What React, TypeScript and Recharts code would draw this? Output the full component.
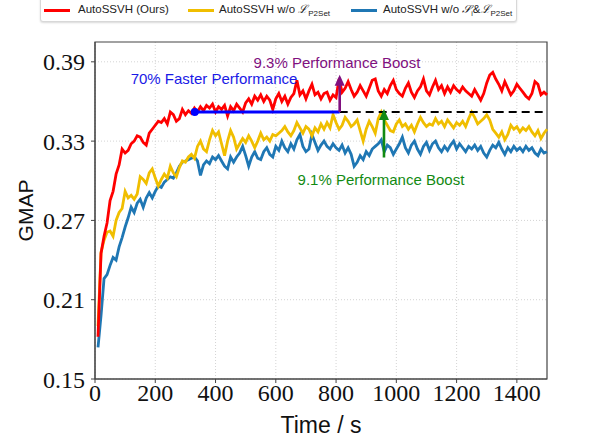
import { LineChart, Line, XAxis, YAxis, CartesianGrid, ReferenceArea, ReferenceDot, Label } from 'recharts';

// GMAP every 10 s, t = 10 ... 1500
const ours = [
  0.182, 0.245, 0.258, 0.268, 0.285, 0.292, 0.305, 0.312, 0.324, 0.321,
  0.323, 0.328, 0.330, 0.334, 0.333, 0.329, 0.327, 0.336, 0.339, 0.342,
  0.345, 0.344, 0.347, 0.343, 0.352, 0.350, 0.345, 0.347, 0.354, 0.350,
  0.353, 0.351, 0.355, 0.352, 0.356, 0.353, 0.357, 0.355, 0.358, 0.352,
  0.356, 0.354, 0.357, 0.349, 0.356, 0.353, 0.358, 0.355, 0.352, 0.359,
  0.362, 0.358, 0.364, 0.361, 0.365, 0.360, 0.364, 0.361, 0.354, 0.362,
  0.366, 0.360, 0.364, 0.358, 0.363, 0.366, 0.376, 0.365, 0.368, 0.362,
  0.368, 0.373, 0.365, 0.367, 0.362, 0.366, 0.367, 0.361, 0.365, 0.363,
  0.377, 0.367, 0.370, 0.375, 0.369, 0.364, 0.367, 0.372, 0.368, 0.364,
  0.370, 0.376, 0.377, 0.368, 0.364, 0.369, 0.366, 0.372, 0.376, 0.369,
  0.366, 0.364, 0.370, 0.374, 0.367, 0.363, 0.368, 0.371, 0.377, 0.368,
  0.365, 0.371, 0.376, 0.369, 0.372, 0.366, 0.371, 0.367, 0.372, 0.369,
  0.367, 0.371, 0.368, 0.366, 0.364, 0.369, 0.365, 0.361, 0.366, 0.374,
  0.380, 0.382, 0.377, 0.373, 0.368, 0.375, 0.370, 0.365, 0.368, 0.373,
  0.370, 0.367, 0.364, 0.362, 0.366, 0.375, 0.373, 0.365, 0.367, 0.365,
];

const noP2Set = [
  0.190, 0.246, 0.255, 0.261, 0.262, 0.258, 0.270, 0.276, 0.279, 0.292,
  0.287, 0.289, 0.286, 0.290, 0.303, 0.301, 0.298, 0.306, 0.309, 0.302,
  0.296, 0.301, 0.305, 0.302, 0.311, 0.306, 0.303, 0.310, 0.315, 0.314,
  0.318, 0.320, 0.317, 0.326, 0.330, 0.324, 0.322, 0.331, 0.338, 0.334,
  0.337, 0.328, 0.319, 0.330, 0.338, 0.333, 0.324, 0.328, 0.332, 0.329,
  0.334, 0.330, 0.325, 0.330, 0.336, 0.331, 0.333, 0.330, 0.335, 0.334,
  0.336, 0.338, 0.341, 0.337, 0.334, 0.338, 0.344, 0.340, 0.336, 0.341,
  0.339, 0.334, 0.340, 0.337, 0.343, 0.339, 0.344, 0.340, 0.350, 0.344,
  0.339, 0.342, 0.348, 0.345, 0.341, 0.343, 0.346, 0.338, 0.330, 0.339,
  0.345, 0.341, 0.336, 0.347, 0.352, 0.346, 0.342, 0.338, 0.337, 0.343,
  0.346, 0.341, 0.343, 0.339, 0.342, 0.337, 0.343, 0.348, 0.344, 0.341,
  0.343, 0.342, 0.347, 0.343, 0.345, 0.341, 0.346, 0.343, 0.340, 0.344,
  0.342, 0.345, 0.341, 0.347, 0.352, 0.348, 0.343, 0.345, 0.347, 0.350,
  0.346, 0.339, 0.336, 0.333, 0.337, 0.331, 0.335, 0.342, 0.339, 0.341,
  0.337, 0.340, 0.338, 0.341, 0.337, 0.334, 0.338, 0.332, 0.336, 0.339,
];

const noSiP2Set = [
  0.174, 0.198, 0.226, 0.229, 0.236, 0.242, 0.240, 0.250, 0.257, 0.265,
  0.272, 0.280, 0.276, 0.283, 0.286, 0.280, 0.287, 0.291, 0.287, 0.292,
  0.296, 0.295, 0.299, 0.301, 0.303, 0.302, 0.306, 0.311, 0.314, 0.315,
  0.316, 0.317, 0.318, 0.315, 0.304, 0.312, 0.315, 0.313, 0.318, 0.316,
  0.319, 0.315, 0.311, 0.309, 0.318, 0.314, 0.318, 0.321, 0.326, 0.319,
  0.311, 0.318, 0.322, 0.317, 0.316, 0.322, 0.325, 0.320, 0.318, 0.326,
  0.323, 0.330, 0.325, 0.322, 0.328, 0.324, 0.331, 0.335, 0.326, 0.322,
  0.324, 0.335, 0.329, 0.323, 0.327, 0.330, 0.326, 0.324, 0.328, 0.325,
  0.323, 0.327, 0.321, 0.325, 0.320, 0.311, 0.314, 0.319, 0.316, 0.322,
  0.319, 0.324, 0.326, 0.328, 0.331, 0.322, 0.327, 0.325, 0.320, 0.324,
  0.328, 0.333, 0.325, 0.321, 0.327, 0.330, 0.324, 0.320, 0.326, 0.329,
  0.323, 0.328, 0.330, 0.325, 0.322, 0.326, 0.323, 0.327, 0.330, 0.324,
  0.328, 0.325, 0.322, 0.326, 0.324, 0.327, 0.323, 0.326, 0.321, 0.318,
  0.323, 0.327, 0.325, 0.329, 0.324, 0.320, 0.325, 0.322, 0.326, 0.323,
  0.325, 0.322, 0.326, 0.323, 0.325, 0.321, 0.319, 0.324, 0.321, 0.322,
];

const STEP = 10;
const times = ours.map((_, i) => (i + 1) * STEP);

const xTicks = [0, 200, 400, 600, 800, 1000, 1200, 1400];
const yTicks = [0.15, 0.21, 0.27, 0.33, 0.39];

// annotation values
const baseline = 0.352;
const fasterFrom = 331;
const fasterTo = 812;
const oursPeak = 0.378;
const boostAt = 959;
const boostLow = 0.3176;

const data = times.map((t, i) => ({ t, ours: ours[i], noP2Set: noP2Set[i], noSiP2Set: noSiP2Set[i] }));
const fasterLine = [{ t: fasterFrom, v: baseline }, { t: fasterTo, v: baseline }];
const purpleArrow = [{ t: fasterTo, v: baseline }, { t: fasterTo, v: oursPeak }];
const dashedLine = [{ t: fasterTo, v: baseline }, { t: 1500, v: baseline }];
const greenArrow = [{ t: boostAt, v: boostLow }, { t: boostAt, v: baseline }];

const RED = '#ff0000';
const YELLOW = '#f0be00';
const BLUE = '#1f77b4';
const PURPLE = '#80107f';
const GREEN = '#128a12';

const sans = '"Liberation Sans", Arial, sans-serif';
const serif = '"Liberation Serif", "Times New Roman", serif';

const arrowHead = (color: string) => (props: any) => {
  const { cx, cy, index } = props;
  if (index !== 1) return <g key={`a-${index}`} />;
  return <polygon key={`a-${index}`} points={`${cx},${cy - 3} ${cx - 5},${cy + 8} ${cx + 5},${cy + 8}`} fill={color} />;
};

const startDot = (props: any) => {
  const { cx, cy, index } = props;
  if (index !== 0) return <g key={`d-${index}`} />;
  return <circle key={`d-${index}`} cx={cx} cy={cy} r={4} fill="#0000ff" />;
};

function Legend() {
  const items = [
    { color: RED, x: 3, tx: 37, label: <>AutoSSVH (Ours)</> },
    {
      color: YELLOW, x: 147, tx: 178,
      label: <>AutoSSVH w/o <i style={{ fontFamily: '"DejaVu Serif", serif' }}>ℒ</i><sub style={{ fontSize: 8 }}>P2Set</sub></>,
    },
    {
      color: BLUE, x: 310, tx: 342,
      label: <>AutoSSVH w/o <i style={{ fontFamily: '"DejaVu Serif", serif' }}>𝒮</i><sub style={{ fontSize: 7 }}>i</sub>&amp;<i style={{ fontFamily: '"DejaVu Serif", serif' }}>ℒ</i><sub style={{ fontSize: 8 }}>P2Set</sub></>,
    },
  ];
  return (
    <div style={{ position: 'absolute', left: 40, top: -8, width: 475, height: 28, border: '1px solid #d8d8d8', borderRadius: 3, background: '#fff', boxShadow: '0 1px 2px rgba(0,0,0,0.15)' }}>
      {items.map((it, i) => (
        <div key={i}>
          <div style={{ position: 'absolute', left: it.x, top: 16, width: 26, height: 3, background: it.color }} />
          <div style={{ position: 'absolute', left: it.tx, top: 9, fontFamily: sans, fontSize: 11.5, color: '#222', whiteSpace: 'nowrap', lineHeight: '14px' }}>{it.label}</div>
        </div>
      ))}
    </div>
  );
}

export default function App() {
  return (
    <div style={{ position: 'absolute', left: 0, top: 0, width: 607, height: 442, background: '#fff' }}>
      <LineChart width={607} height={442} data={data} margin={{ top: 42, right: 60, bottom: 0, left: 0 }}>
        <CartesianGrid stroke="#d4d4d4" strokeDasharray="1 2" verticalValues={xTicks} horizontalValues={yTicks} />
        <XAxis
          dataKey="t"
          type="number"
          domain={[0, 1500]}
          ticks={xTicks}
          height={63}
          tickSize={4}
          tickMargin={1}
          stroke="#444"
          tick={{ fontFamily: serif, fontSize: 24, fill: '#111' }}
        >
          <Label
            content={(p: any) => (
              <text x={p.viewBox.x + p.viewBox.width / 2} y={p.viewBox.y + 54} textAnchor="middle" fontFamily={sans} fontSize={23} fill="#111">
                Time / s
              </text>
            )}
          />
        </XAxis>
        <YAxis
          type="number"
          domain={[0.15, 0.405]}
          ticks={yTicks}
          width={95}
          tickSize={4}
          tickMargin={6}
          stroke="#444"
          tickFormatter={(v: number) => v.toFixed(2)}
          tick={{ fontFamily: serif, fontSize: 24, fill: '#111' }}
        >
          <Label
            content={(p: any) => {
              const x = 33;
              const y = p.viewBox.y + p.viewBox.height / 2;
              return (
                <text x={x} y={y} transform={`rotate(-90 ${x} ${y})`} textAnchor="middle" fontFamily={sans} fontSize={21} fill="#111">
                  GMAP
                </text>
              );
            }}
          />
        </YAxis>
        <ReferenceArea x1={0} x2={1500} y1={0.15} y2={0.405} fill="none" stroke="#444" strokeWidth={1.2} ifOverflow="visible" />

        <Line dataKey="noSiP2Set" stroke={BLUE} strokeWidth={2.8} dot={false} isAnimationActive={false} />
        <Line dataKey="noP2Set" stroke={YELLOW} strokeWidth={2.8} dot={false} isAnimationActive={false} />
        <Line dataKey="ours" stroke={RED} strokeWidth={2.8} dot={false} isAnimationActive={false} />

        <Line data={dashedLine} dataKey="v" stroke="#000" strokeWidth={2} strokeDasharray="8 5" dot={false} isAnimationActive={false} />
        <Line data={fasterLine} dataKey="v" stroke="#0000ff" strokeWidth={3} dot={startDot} isAnimationActive={false} />
        <Line data={purpleArrow} dataKey="v" stroke={PURPLE} strokeWidth={2.6} dot={arrowHead(PURPLE)} isAnimationActive={false} />
        <Line data={greenArrow} dataKey="v" stroke={GREEN} strokeWidth={2.6} dot={arrowHead(GREEN)} isAnimationActive={false} />

        <ReferenceDot x={395} y={0.377} r={0} stroke="none" fill="none" ifOverflow="visible"
          label={{ value: '70% Faster Performance', position: 'center', fill: '#1a1ae6', fontSize: 15, fontFamily: sans }} />
        <ReferenceDot x={803} y={0.389} r={0} stroke="none" fill="none" ifOverflow="visible"
          label={{ value: '9.3% Performance Boost', position: 'center', fill: PURPLE, fontSize: 15, fontFamily: sans }} />
        <ReferenceDot x={949} y={0.301} r={0} stroke="none" fill="none" ifOverflow="visible"
          label={{ value: '9.1% Performance Boost', position: 'center', fill: GREEN, fontSize: 15, fontFamily: sans }} />
      </LineChart>
      <Legend />
    </div>
  );
}
